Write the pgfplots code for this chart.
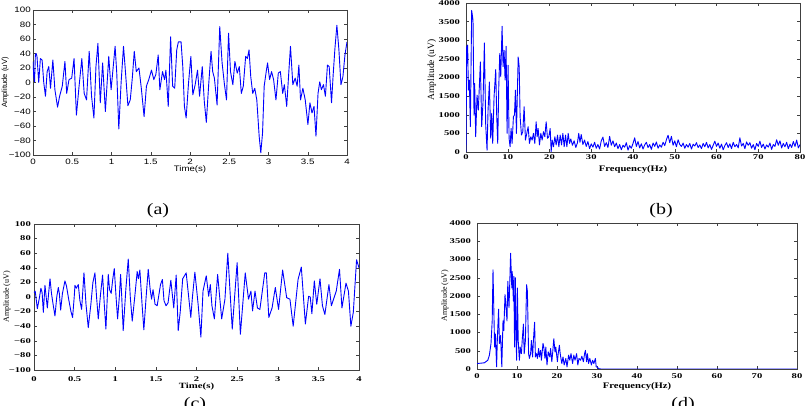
\documentclass[border=0pt]{standalone}
\usepackage{pgfplots}
\usepackage{pgfplotstable}
\pgfplotsset{compat=1.18}
\usepackage{fontspec}
\setmainfont{Liberation Serif}
\newfontfamily\asans{Liberation Sans}

\pgfplotstableread{
t v
0.000 29
0.010 8
0.020 1
0.030 38
0.040 40
0.051 36
0.073 0
0.094 33
0.116 31
0.137 0
0.159 -19
0.180 15
0.201 22
0.223 -8
0.253 31
0.279 -10
0.313 -34
0.339 -19
0.373 -5
0.407 29
0.429 -15
0.459 4
0.493 6
0.523 33
0.553 -45
0.587 -5
0.622 33
0.652 -15
0.682 -24
0.716 43
0.746 -19
0.776 -49
0.802 22
0.827 54
0.857 -28
0.887 27
0.922 -40
0.965 36
0.995 -10
1.046 50
1.067 13
1.093 -64
1.123 1
1.153 50
1.179 13
1.209 -32
1.239 -24
1.265 6
1.290 43
1.316 15
1.350 20
1.380 -8
1.415 -47
1.445 -5
1.475 4
1.509 17
1.539 4
1.565 11
1.595 38
1.616 -10
1.650 15
1.676 4
1.693 17
1.723 -33
1.753 63
1.779 -5
1.805 -8
1.831 45
1.852 56
1.886 56
1.908 22
1.929 -33
1.951 -49
1.981 -1
2.011 36
2.036 -17
2.066 -3
2.096 17
2.122 -19
2.156 22
2.182 -26
2.208 -55
2.238 -3
2.268 43
2.289 15
2.311 6
2.345 -31
2.379 77
2.409 27
2.439 -3
2.465 -24
2.491 68
2.516 15
2.546 -3
2.572 29
2.602 13
2.628 22
2.654 -15
2.679 -5
2.709 36
2.731 33
2.752 45
2.774 8
2.799 -15
2.825 -8
2.851 -24
2.881 -74
2.902 -97
2.924 -70
2.945 -5
2.971 15
2.988 27
3.014 4
3.039 15
3.065 4
3.095 -24
3.125 13
3.151 15
3.181 -15
3.202 -3
3.232 -33
3.258 13
3.280 50
3.310 -3
3.340 6
3.365 -5
3.387 24
3.408 -24
3.438 -8
3.468 -24
3.502 -58
3.528 -28
3.554 -42
3.580 -33
3.605 -74
3.631 -15
3.653 1
3.674 -10
3.700 -3
3.725 -19
3.751 24
3.773 22
3.803 -28
3.824 11
3.845 45
3.871 79
3.897 45
3.923 -3
3.948 8
3.974 38
4.000 56
}\dataA

\pgfplotstableread{
f v
0.00 0
0.16 2820
0.40 2870
0.56 1660
0.80 1930
1.04 680
1.36 3800
1.68 3540
1.92 990
2.08 1840
2.32 410
2.64 1530
2.96 1125
3.44 2420
3.76 680
4.08 1350
4.40 2930
4.72 720
5.04 50
5.28 1125
5.60 1880
5.92 370
6.16 1036
6.40 230
6.72 1480
7.12 2215
7.36 950
7.60 230
7.84 1700
8.08 2640
8.32 2020
8.64 3375
8.88 2290
9.12 2730
9.36 1930
9.60 2840
9.84 500
10.08 2330
10.32 366
10.56 140
10.80 630
11.04 230
11.36 950
11.60 990
11.84 1660
12.08 500
12.50 2550
12.74 2290
12.96 950
13.28 455
13.60 545
13.92 1215
14.24 320
14.56 500
14.88 680
15.20 230
15.52 410
15.84 320
16.16 500
16.48 230
16.80 810
17.04 410
17.28 630
17.60 190
17.92 500
18.24 320
18.56 545
18.88 410
19.20 810
19.52 366
19.84 410
20.16 630
20.40 10
20.64 320
20.96 140
21.28 410
21.60 190
21.92 455
22.24 140
22.56 455
22.88 190
23.20 500
23.52 140
23.84 455
24.16 140
24.48 500
24.80 230
25.1 350
25.5 180
25.9 300
26.3 120
26.7 250
27.0 500
27.3 260
27.6 470
28.0 200
28.4 320
28.8 150
29.2 280
29.6 90
30.0 220
30.4 130
30.8 260
31.2 100
31.6 200
32.0 80
32.4 300
32.8 400
33.2 150
33.6 250
34.0 120
34.4 420
34.8 180
35.2 300
35.6 140
36.0 240
36.4 90
36.8 200
37.2 60
37.6 180
38.0 130
38.4 250
38.8 50
39.2 170
39.6 100
40.0 230
40.4 380
40.8 150
41.2 280
41.6 110
42.0 220
42.4 80
42.8 190
43.2 260
43.6 120
44.0 200
44.4 70
44.8 240
45.2 150
45.6 270
46.0 100
46.4 190
46.8 130
47.2 260
47.6 170
48.0 330
48.4 450
48.8 250
49.2 420
49.6 180
50.0 300
50.4 140
50.8 330
51.2 200
51.6 150
52.0 240
52.4 100
52.8 200
53.2 130
53.6 230
54.0 80
54.4 210
54.8 160
55.2 250
55.6 120
56.0 190
56.4 90
56.8 230
57.2 140
57.6 260
58.0 110
58.4 200
58.8 70
59.2 180
59.6 290
60.0 150
60.4 240
60.8 100
61.2 210
61.6 60
62.0 170
62.4 250
62.8 120
63.2 220
63.6 90
64.0 260
64.4 140
64.8 200
65.2 110
65.6 380
66.0 160
66.4 230
66.8 90
67.2 270
67.6 180
68.0 250
68.4 100
68.8 200
69.2 60
69.6 230
70.0 150
70.4 290
70.8 120
71.2 210
71.6 80
72.0 190
72.4 130
72.8 240
73.2 70
73.6 200
74.0 150
74.4 330
74.8 180
75.2 300
75.6 110
76.0 230
76.4 140
76.8 260
77.2 90
77.6 210
78.0 120
78.4 280
78.8 150
79.2 320
79.6 110
80.0 200
}\dataB

\pgfplotstableread{
t v
0.000 6
0.015 8
0.041 -16
0.065 -2
0.085 12
0.100 6
0.115 -21
0.135 16
0.150 0
0.164 -15
0.180 5
0.197 25
0.215 5
0.235 -10
0.258 -26
0.280 0
0.299 13
0.312 5
0.328 -18
0.350 5
0.381 22
0.400 15
0.430 -5
0.455 -20
0.475 -28
0.495 0
0.504 16
0.520 12
0.545 17
0.565 -5
0.586 -17
0.615 33
0.640 -10
0.668 -42
0.700 -10
0.725 20
0.750 33
0.770 0
0.791 -30
0.820 5
0.844 30
0.865 -10
0.885 -44
0.914 31
0.930 10
0.950 5
0.970 25
0.988 39
1.010 0
1.029 -30
1.050 0
1.066 31
1.080 0
1.098 -46
1.130 10
1.160 52
1.185 0
1.209 -33
1.240 0
1.270 35
1.285 25
1.303 37
1.330 -10
1.352 -45
1.380 0
1.406 38
1.430 10
1.447 -3
1.465 10
1.490 -10
1.516 -12
1.557 17
1.580 24
1.600 -5
1.625 -12
1.650 -8
1.684 23
1.720 -15
1.750 30
1.775 -46
1.800 -20
1.830 25
1.873 33
1.930 -28
1.950 0
1.980 34
2.020 -10
2.054 -55
2.080 8
2.120 29
2.150 1
2.170 17
2.190 -12
2.220 -30
2.260 31
2.310 -30
2.350 -3
2.385 60
2.440 -44
2.500 47
2.540 -51
2.600 33
2.640 -3
2.670 8
2.690 -19
2.720 8
2.750 -15
2.780 -17
2.840 33
2.860 33
2.890 -28
2.930 -15
2.970 13
3.010 -17
3.060 37
3.110 -1
3.150 -3
3.190 -40
3.250 24
3.290 41
3.340 -37
3.380 1
3.400 0
3.420 -23
3.450 22
3.480 -10
3.520 25
3.550 -12
3.580 -24
3.630 17
3.660 -12
3.720 8
3.760 38
3.790 -15
3.840 19
3.870 8
3.900 -40
3.930 -21
3.970 51
4.000 40
}\dataC

\pgfplotstableread{
f v
0.0 150
1.0 160
1.85 170
2.7 240
3.1 380
3.5 700
3.8 1320
4.0 2720
4.4 600
4.6 960
4.9 60
5.1 870
5.4 1640
5.6 700
5.9 920
6.2 60
6.5 1320
6.7 1050
7.0 2040
7.2 1770
7.5 1320
7.7 2400
8.0 1680
8.2 2400
8.4 3170
8.7 2220
8.8 2670
9.1 1860
9.2 2540
9.4 600
9.6 2500
9.7 1320
9.9 240
10.1 2220
10.3 780
10.6 240
10.8 600
11.1 420
11.3 780
11.6 1230
11.8 420
12.1 780
12.4 2310
12.6 2130
12.9 420
13.1 290
13.4 420
13.6 780
13.9 330
14.1 780
14.4 1280
14.6 330
14.9 420
15.1 290
15.4 560
15.6 330
15.9 510
16.1 240
16.5 700
16.7 600
17.0 290
17.2 600
17.5 110
17.8 470
18.2 330
18.4 560
18.7 200
18.9 420
19.2 830
19.5 470
19.7 600
20.1 200
20.3 420
20.6 650
20.8 420
21.2 150
21.5 330
21.8 110
22.2 290
22.5 60
22.9 380
23.2 240
23.5 420
23.9 150
24.2 380
24.5 240
24.9 420
25.2 110
25.5 290
25.9 240
26.2 350
26.6 200
26.9 420
27.1 510
27.4 200
27.6 420
27.9 150
28.2 290
28.6 110
28.9 240
29.2 150
29.6 290
29.8 60
30.1 50
30.4 10
31.0 0
80.0 0
}\dataD

\pgfplotsset{
  eeg/.style={
    scale only axis, anchor=south west, clip=true, no markers,
    axis line style={black!75, line width=0.5pt},
    every tick/.style={black!75, line width=0.4pt},
    major tick length=3pt, tick align=inside,
    xlabel style={anchor=center, inner sep=0pt},
    ylabel style={anchor=center, inner sep=0pt},
    xticklabel style={anchor=center, inner sep=0pt},
    yticklabel style={anchor=east, inner sep=0pt},
  },
  serifstyle/.style={
    xticklabel style={font=\bfseries\fontsize{7.3}{8}\selectfont, xscale=1.45},
    yticklabel style={font=\bfseries\fontsize{7.3}{8}\selectfont, xscale=1.45},
  },
  sig/.style={color=blue, line width=0.9pt, mark=none, line join=round},
}

\begin{document}
\begin{tikzpicture}
\useasboundingbox (0pt,0pt) rectangle (806pt,406pt);

% (a)
\begin{axis}[eeg, at={(33pt,251pt)}, width=314pt, height=145pt,
  xmin=0, xmax=4, ymin=-100, ymax=100,
  xtick={0,0.5,1,1.5,2,2.5,3,3.5,4},
  xticklabels={0,0.5,1,1.5,2,2.5,3,3.5,4},
  ytick={-100,-80,-60,-40,-20,0,20,40,60,80,100},
  yticklabels={−100,−80,−60,−40,−20,0,20,40,60,80,100},
  xticklabel style={font=\asans\fontsize{7.8}{9}\selectfont, yshift=-7pt, xscale=1.25},
  yticklabel style={font=\asans\fontsize{7.8}{9}\selectfont, xshift=-2pt, xscale=1.25},
  xlabel={Time(s)}, xlabel style={at={(axis description cs:0.5,-0.103)}, font=\asans\fontsize{8}{9}\selectfont, xscale=1.2},
  ylabel={Amplitude (uV)}, ylabel style={at={(axis description cs:-0.089,0.5)}, font=\asans\fontsize{7.6}{9}\selectfont},
]
\addplot[sig] table[x=t, y=v] {\dataA};
\end{axis}

% (b)
\begin{axis}[eeg, serifstyle, at={(466pt,254pt)}, width=334pt, height=149pt,
  xmin=0, xmax=80, ymin=0, ymax=4000,
  xtick={0,10,...,80}, xticklabels={0,10,20,30,40,50,60,70,80},
  ytick={0,500,...,4000}, yticklabels={0,500,1000,1500,2000,2500,3000,3500,4000},
  xticklabel style={yshift=-5pt},
  yticklabel style={xshift=-4pt},
  xlabel={Frequency(Hz)}, xlabel style={at={(axis description cs:0.5,-0.114)}, font=\bfseries\fontsize{8.5}{9}\selectfont, xscale=1.25},
  ylabel={Amplitude (uV)}, ylabel style={at={(axis description cs:-0.102,0.55)}, font=\fontsize{9.5}{10}\selectfont},
]
\addplot[sig] table[x=f, y=v] {\dataB};
\end{axis}

% (c)
\begin{axis}[eeg, serifstyle, at={(34pt,36pt)}, width=325pt, height=146pt,
  xmin=0, xmax=4, ymin=-100, ymax=100,
  xtick={0,0.5,1,1.5,2,2.5,3,3.5,4},
  xticklabels={0,0.5,1,1.5,2,2.5,3,3.5,4},
  ytick={-100,-80,-60,-40,-20,0,20,40,60,80,100},
  yticklabels={−100,−80,−60,−40,−20,0,20,40,60,80,100},
  xticklabel style={yshift=-9pt},
  yticklabel style={xshift=-2pt},
  xlabel={Time(s)}, xlabel style={at={(axis description cs:0.5,-0.116)}, font=\bfseries\fontsize{8}{9}\selectfont, xscale=1.35},
  ylabel={Amplitude (uV)}, ylabel style={at={(axis description cs:-0.083,0.5)}, font=\fontsize{8}{9}\selectfont},
]
\addplot[sig] table[x=t, y=v] {\dataC};
\end{axis}

% (d)
\begin{axis}[eeg, serifstyle, at={(477pt,37pt)}, width=320pt, height=146pt,
  xmin=0, xmax=80, ymin=0, ymax=4000,
  xtick={0,10,...,80}, xticklabels={0,10,20,30,40,50,60,70,80},
  ytick={0,500,...,4000}, yticklabels={0,500,1000,1500,2000,2500,3000,3500,4000},
  xticklabel style={yshift=-7pt},
  yticklabel style={xshift=-4pt},
  xlabel={Frequency(Hz)}, xlabel style={at={(axis description cs:0.5,-0.123)}, font=\bfseries\fontsize{8.5}{9}\selectfont, xscale=1.25},
  ylabel={Amplitude (uV)}, ylabel style={at={(axis description cs:-0.1,0.5)}, font=\fontsize{8}{9}\selectfont},
]
\addplot[sig] table[x=f, y=v] {\dataD};
\end{axis}

\node[font=\fontsize{16}{16}\selectfont, xscale=1.25] at (158pt,195pt) {(a)};
\node[font=\fontsize{16}{16}\selectfont, xscale=1.25] at (661pt,195pt) {(b)};
\node[font=\fontsize{16}{16}\selectfont, xscale=1.25] at (195pt,1pt) {(c)};
\node[font=\fontsize{16}{16}\selectfont, xscale=1.25] at (683pt,1pt) {(d)};
\end{tikzpicture}
\end{document}
